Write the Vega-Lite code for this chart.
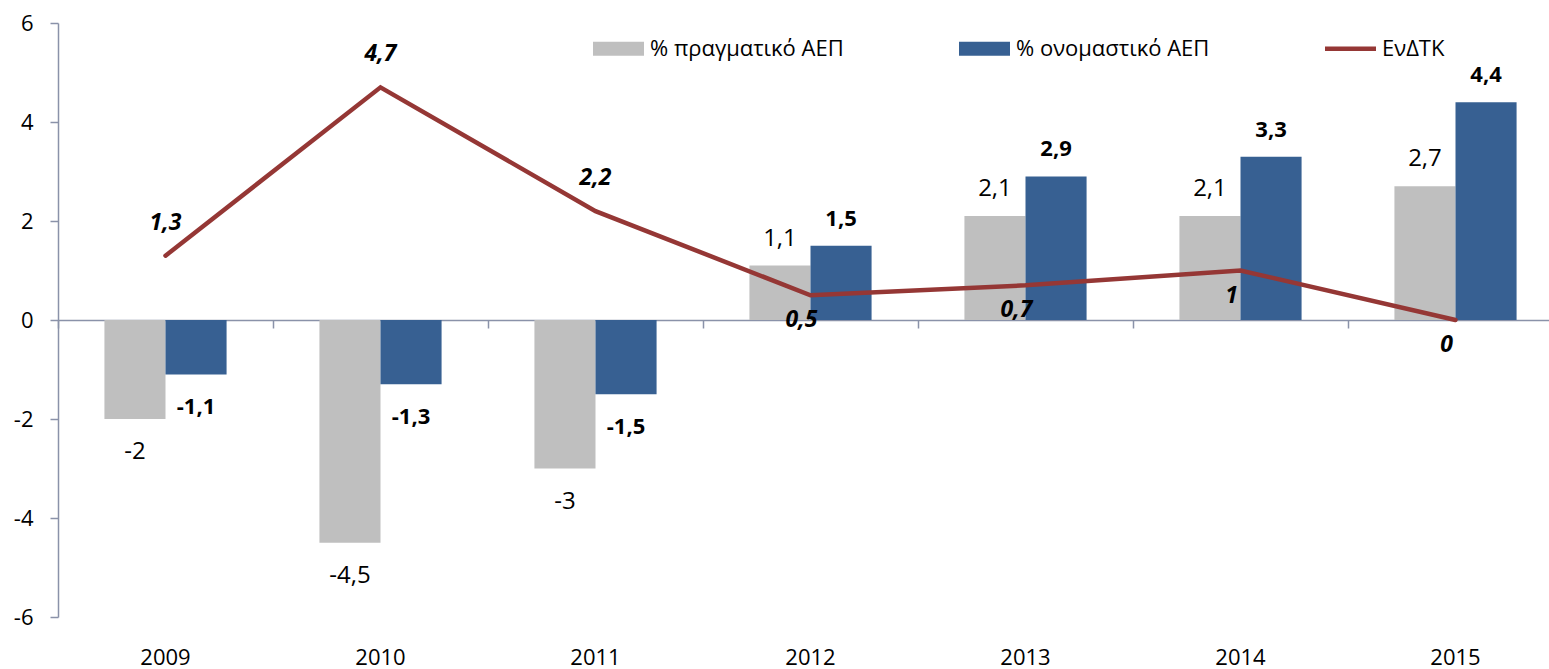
{
  "$schema": "https://vega.github.io/schema/vega-lite/v6.json",
  "width": 1491,
  "height": 594,
  "autosize": "none",
  "padding": {"left": 58, "top": 23, "right": 0, "bottom": 52},
  "background": "white",
  "config": {
    "view": {"stroke": null},
    "font": "Open Sans",
    "locale": {"number": {"decimal": ",", "thousands": ".", "grouping": [3], "currency": ["", " €"], "minus": "-"}},
    "legend": {"symbolStrokeWidth": 0, "symbolOpacity": 1, "labelFontSize": 22, "labelColor": "#000000", "labelOffset": 6, "padding": 0, "symbolSize": 2601, "gridAlign": "all", "columnPadding": 115, "labelLimit": 400}
  },
  "data": {
    "values": [
      {"year": 2009, "series": "% πραγματικό ΑΕΠ", "value": -2},
      {"year": 2010, "series": "% πραγματικό ΑΕΠ", "value": -4.5},
      {"year": 2011, "series": "% πραγματικό ΑΕΠ", "value": -3},
      {"year": 2012, "series": "% πραγματικό ΑΕΠ", "value": 1.1},
      {"year": 2013, "series": "% πραγματικό ΑΕΠ", "value": 2.1},
      {"year": 2014, "series": "% πραγματικό ΑΕΠ", "value": 2.1},
      {"year": 2015, "series": "% πραγματικό ΑΕΠ", "value": 2.7},
      {"year": 2009, "series": "% ονομαστικό ΑΕΠ", "value": -1.1},
      {"year": 2010, "series": "% ονομαστικό ΑΕΠ", "value": -1.3},
      {"year": 2011, "series": "% ονομαστικό ΑΕΠ", "value": -1.5},
      {"year": 2012, "series": "% ονομαστικό ΑΕΠ", "value": 1.5},
      {"year": 2013, "series": "% ονομαστικό ΑΕΠ", "value": 2.9},
      {"year": 2014, "series": "% ονομαστικό ΑΕΠ", "value": 3.3},
      {"year": 2015, "series": "% ονομαστικό ΑΕΠ", "value": 4.4},
      {"year": 2009, "series": "ΕνΔΤΚ", "value": 1.3},
      {"year": 2010, "series": "ΕνΔΤΚ", "value": 4.7},
      {"year": 2011, "series": "ΕνΔΤΚ", "value": 2.2},
      {"year": 2012, "series": "ΕνΔΤΚ", "value": 0.5},
      {"year": 2013, "series": "ΕνΔΤΚ", "value": 0.7},
      {"year": 2014, "series": "ΕνΔΤΚ", "value": 1},
      {"year": 2015, "series": "ΕνΔΤΚ", "value": 0}
    ]
  },
  "resolve": {"axis": {"x": "independent"}},
  "layer": [
    {
      "transform": [{"filter": "datum.series !== 'ΕνΔΤΚ'"}],
      "mark": {"type": "bar"},
      "encoding": {
        "x": {"field": "year", "type": "ordinal", "scale": {"type": "band", "range": [0, 1505], "paddingInner": 0, "paddingOuter": 0},
              "axis": {"orient": "bottom", "title": null, "domain": false, "ticks": false, "labelPadding": 30, "labelFontSize": 22, "labelColor": "#000000", "labelAngle": 0}},
        "xOffset": {"field": "series", "type": "nominal", "scale": {"domain": ["% πραγματικό ΑΕΠ", "% ονομαστικό ΑΕΠ"], "paddingInner": 0, "paddingOuter": 0.76}},
        "y": {"field": "value", "type": "quantitative", "scale": {"domain": [-6, 6], "nice": false},
              "axis": {"title": null, "values": [-6, -4, -2, 0, 2, 4, 6], "grid": false, "domainColor": "#8A92A9", "domainWidth": 1.5, "tickColor": "#8A92A9", "tickWidth": 1.5, "tickSize": 8, "labelPadding": 17, "labelFontSize": 22, "labelColor": "#000000"}},
        "color": {"field": "series", "type": "nominal",
                  "scale": {"domain": ["% πραγματικό ΑΕΠ", "% ονομαστικό ΑΕΠ", "ΕνΔΤΚ"], "range": ["#BFBFBF", "#376092", "#953735"]},
                  "legend": {"title": null, "orient": "none", "legendX": 535, "legendY": 0, "direction": "horizontal", "columns": 3}}
      }
    },
    {
      "transform": [{"filter": "datum.series === 'ΕνΔΤΚ'"}],
      "mark": {"type": "line", "strokeWidth": 4.5, "strokeCap": "round"},
      "encoding": {
        "x": {"field": "year", "type": "ordinal",
              "axis": {"orient": "bottom", "offset": -297, "title": null, "labels": false, "domain": true, "domainColor": "#8A92A9", "domainWidth": 1.5, "ticks": true, "tickColor": "#8A92A9", "tickWidth": 1.5, "tickSize": 8, "bandPosition": 0, "grid": false}},
        "y": {"field": "value", "type": "quantitative"},
        "color": {"field": "series", "type": "nominal",
                  "legend": {"title": null, "orient": "none", "legendX": 535, "legendY": 0, "direction": "horizontal", "columns": 3}}
      }
    },
    {
      "transform": [{"filter": "datum.series === 'ΕνΔΤΚ'"}],
      "mark": {"type": "point", "filled": true, "size": 6, "opacity": 1},
      "encoding": {
        "x": {"field": "year", "type": "ordinal", "axis": null},
        "y": {"field": "value", "type": "quantitative"},
        "color": {"field": "series", "type": "nominal",
                  "legend": {"title": null, "orient": "none", "legendX": 535, "legendY": 0, "direction": "horizontal", "columns": 3}},
        "shape": {"field": "series", "type": "nominal",
                  "scale": {"domain": ["% πραγματικό ΑΕΠ", "% ονομαστικό ΑΕΠ", "ΕνΔΤΚ"], "range": ["M-1,-0.2745H1V0.2745H-1Z", "M-1,-0.2745H1V0.2745H-1Z", "M-1,-0.085H1V0.085H-1Z"]},
                  "legend": {"title": null, "orient": "none", "legendX": 535, "legendY": 0, "direction": "horizontal", "columns": 3}}
      }
    },
    {
      "transform": [{"filter": "datum.series === '% πραγματικό ΑΕΠ' && datum.value >= 0"}],
      "mark": {"type": "text", "fontSize": 24, "dy": -20, "baseline": "alphabetic", "align": "center", "color": "#000000"},
      "encoding": {
        "x": {"field": "year", "type": "ordinal", "axis": null},
        "xOffset": {"field": "series", "type": "nominal"},
        "y": {"field": "value", "type": "quantitative"},
        "text": {"field": "value", "type": "quantitative"}
      }
    },
    {
      "transform": [{"filter": "datum.series === '% πραγματικό ΑΕΠ' && datum.value < 0"}],
      "mark": {"type": "text", "fontSize": 24, "dy": 40, "baseline": "alphabetic", "align": "center", "color": "#000000"},
      "encoding": {
        "x": {"field": "year", "type": "ordinal", "axis": null},
        "xOffset": {"field": "series", "type": "nominal"},
        "y": {"field": "value", "type": "quantitative"},
        "text": {"field": "value", "type": "quantitative"}
      }
    },
    {
      "transform": [{"filter": "datum.series === '% ονομαστικό ΑΕΠ' && datum.value >= 0"}],
      "mark": {"type": "text", "fontSize": 22, "fontWeight": "bold", "dy": -20, "baseline": "alphabetic", "align": "center", "color": "#000000"},
      "encoding": {
        "x": {"field": "year", "type": "ordinal", "axis": null},
        "xOffset": {"field": "series", "type": "nominal"},
        "y": {"field": "value", "type": "quantitative"},
        "text": {"field": "value", "type": "quantitative"}
      }
    },
    {
      "transform": [{"filter": "datum.series === '% ονομαστικό ΑΕΠ' && datum.value < 0"}],
      "mark": {"type": "text", "fontSize": 22, "fontWeight": "bold", "dy": 40, "baseline": "alphabetic", "align": "center", "color": "#000000"},
      "encoding": {
        "x": {"field": "year", "type": "ordinal", "axis": null},
        "xOffset": {"field": "series", "type": "nominal"},
        "y": {"field": "value", "type": "quantitative"},
        "text": {"field": "value", "type": "quantitative"}
      }
    },
    {
      "transform": [{"filter": "datum.series === 'ΕνΔΤΚ' && datum.year <= 2011"}],
      "mark": {"type": "text", "fontSize": 23, "fontWeight": "bold", "fontStyle": "italic", "dy": -26, "baseline": "alphabetic", "align": "center", "color": "#000000"},
      "encoding": {
        "x": {"field": "year", "type": "ordinal", "axis": null},
        "y": {"field": "value", "type": "quantitative"},
        "text": {"field": "value", "type": "quantitative"}
      }
    },
    {
      "transform": [{"filter": "datum.series === 'ΕνΔΤΚ' && datum.year > 2011"}],
      "mark": {"type": "text", "fontSize": 23, "fontWeight": "bold", "fontStyle": "italic", "dy": 32, "dx": -9, "baseline": "alphabetic", "align": "center", "color": "#000000"},
      "encoding": {
        "x": {"field": "year", "type": "ordinal", "axis": null},
        "y": {"field": "value", "type": "quantitative"},
        "text": {"field": "value", "type": "quantitative"}
      }
    }
  ]
}
